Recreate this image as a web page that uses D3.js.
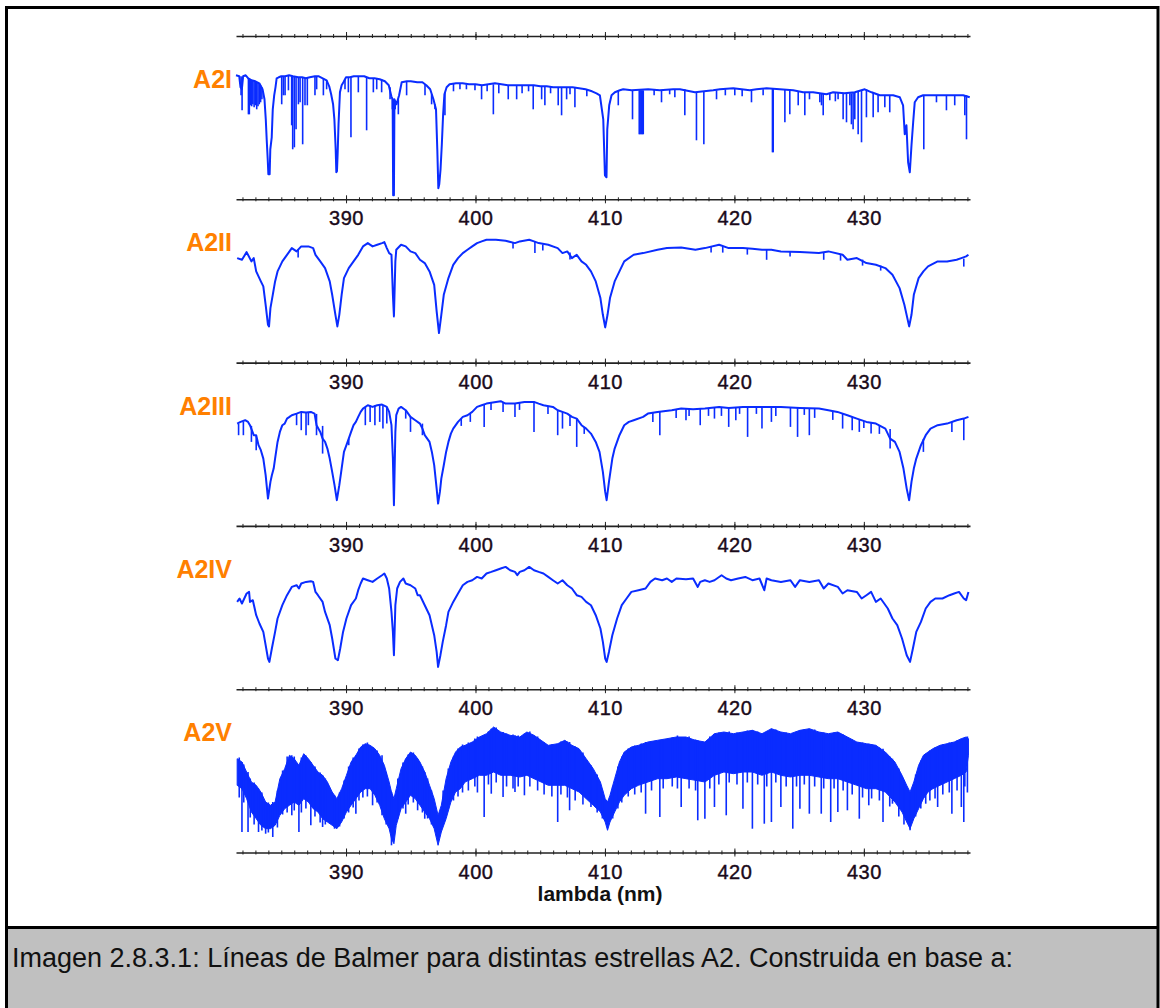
<!DOCTYPE html>
<html>
<head>
<meta charset="utf-8">
<script src="https://cdn.jsdelivr.net/npm/d3@7"></script>
<style>
  body { margin: 0; background: #fff; }
  svg text { font-family: "Liberation Sans", Arial, sans-serif; }
</style>
</head>
<body>
<div class="svg-container"></div>
<script>
// spectra: [lambda nm, relative intensity]
// narrow absorption lines: [lambda nm, top, bottom]
const starNames = ['A2I', 'A2II', 'A2III', 'A2IV', 'A2V'];
const majorTicks = [390, 400, 410, 420, 430];

const a2iFlux = [[381.50,124],[381.75,123],[381.85,112],[381.95,110],[382.05,123],[382.25,124],[382.45,121],[382.70,119],[383.00,118],[383.30,116],[383.55,110],[383.70,100],[383.80,80],[383.87,60],[383.95,40],[384.00,25],[384.10,25],[384.15,50],[384.26,62],[384.34,90],[384.45,104],[384.55,112],[384.64,121],[384.80,122],[385.00,123],[385.30,123],[385.60,124],[385.90,123],[386.30,122],[386.60,122],[386.90,121],[387.20,122],[387.60,123],[387.90,123],[388.20,121],[388.50,119],[388.70,113],[388.85,105],[389.00,95],[389.10,80],[389.20,50],[389.25,27],[389.30,28],[389.35,45],[389.42,75],[389.53,107],[389.66,114],[389.80,117],[390.00,122],[390.30,122],[390.60,123],[391.00,123],[391.40,123],[391.80,121],[392.20,121],[392.60,120],[393.00,118],[393.30,114],[393.50,103],[393.60,100],[393.64,4],[393.70,4],[393.74,100],[393.90,95],[394.10,104],[394.30,117],[394.70,118],[395.00,118],[395.50,117],[395.90,117],[396.20,114],[396.50,110],[396.75,100],[396.95,90],[397.05,50],[397.13,11],[397.20,15],[397.30,30],[397.40,55],[397.50,85],[397.60,105],[397.77,112],[398.00,115],[398.50,116],[399.00,116],[399.50,115],[400.00,115],[400.50,114],[401.00,115],[401.50,116],[402.00,115],[402.50,114],[403.00,114],[403.50,114],[404.00,114],[404.50,114],[405.00,113],[405.50,113],[406.00,112],[406.50,112],[407.00,112],[407.50,112],[408.00,111],[408.50,110],[409.00,108],[409.35,106],[409.61,104],[409.87,80],[410.00,24],[410.12,22],[410.18,70],[410.33,94],[410.51,104],[410.77,107],[411.15,109],[411.41,110],[412.06,109],[413.34,110],[414.24,109],[415.27,110],[415.79,110],[416.95,107],[418.36,109],[418.88,110],[419.91,111],[421.19,109],[421.71,110],[422.48,111],[423.51,110],[424.54,109],[425.31,107],[426.08,107],[427.11,105],[427.63,107],[428.50,106],[429.30,107],[430.07,110],[430.60,107],[431.23,104],[431.75,104],[432.26,104],[432.78,102],[433.03,94],[433.16,65],[433.29,74],[433.42,37],[433.55,27],[433.68,54],[433.81,77],[433.93,97],[434.19,102],[434.58,104],[435.35,104],[436.89,104],[437.67,104],[438.18,102]];

const a2iLines = [[381.89,123,104],[381.97,122,89],[382.46,121,85],[382.53,121,85],[382.62,120,94],[382.71,119,93],[382.80,119,95],[382.90,118,92],[383.00,118,94],[383.10,117,90],[383.20,117,93],[383.30,116,95],[383.40,114,97],[383.50,112,100],[385.03,123,95],[385.16,123,104],[385.29,123,104],[385.55,124,109],[385.80,123,74],[385.88,123,50],[386.01,123,52],[386.14,122,70],[386.32,122,95],[386.45,122,97],[386.65,122,55],[386.83,121,94],[387.01,121,94],[387.60,123,104],[387.73,123,110],[388.25,121,104],[388.50,119,110],[389.92,120,110],[390.18,122,107],[390.38,122,62],[390.95,123,107],[391.59,122,69],[392.11,121,107],[392.37,121,110],[392.75,120,107],[393.40,112,100],[393.58,101,90],[393.80,98,90],[394.04,100,85],[394.68,118,104],[396.10,115,104],[396.61,105,95],[396.87,95,90],[397.64,107,84],[398.30,116,108],[398.80,116,110],[399.30,115,110],[399.96,115,109],[400.47,114,100],[400.90,115,108],[401.38,115,85],[401.80,115,106],[402.53,114,100],[403.18,114,100],[403.60,114,106],[404.10,114,108],[404.46,114,90],[405.11,113,100],[405.36,113,94],[405.80,113,106],[406.39,112,94],[406.65,112,84],[407.04,112,100],[407.30,112,105],[407.68,112,92],[408.60,110,103],[411.03,109,94],[412.13,109,80],[412.65,109,65],[412.72,109,65],[412.80,109,65],[412.88,109,65],[412.96,109,65],[413.80,110,104],[414.37,109,97],[415.00,110,105],[415.40,110,102],[416.17,110,84],[417.07,107,59],[417.64,108,55],[418.62,109,100],[419.30,110,104],[420.03,111,104],[420.60,110,103],[421.32,109,97],[422.22,110,104],[422.94,111,47],[423.00,111,47],[423.90,110,77],[424.28,110,85],[424.93,108,94],[425.44,107,84],[425.80,107,100],[426.60,106,97],[426.73,106,94],[426.86,106,84],[427.37,106,99],[427.80,107,98],[428.01,107,100],[428.40,106,80],[428.66,106,77],[428.92,106,94],[429.04,106,75],[429.17,107,70],[429.30,107,80],[429.56,108,65],[429.82,109,57],[430.20,110,82],[430.72,107,82],[431.10,105,87],[431.62,104,92],[432.00,104,87],[434.63,104,50],[435.61,104,97],[436.38,104,89],[437.02,104,94],[437.80,104,84],[437.93,104,60]];

const a2iiFlux = [[381.59,104.5],[381.96,102.8],[382.32,110.5],[382.69,101.2],[382.87,104.5],[383.06,91.2],[383.42,81.2],[383.61,76.2],[383.79,57.8],[383.97,37.8],[384.05,36.2],[384.16,54.5],[384.34,67.8],[384.52,81.2],[384.71,91.2],[385.08,101.2],[385.44,107.8],[385.81,114.5],[386.18,111.2],[386.54,116.2],[387.09,116.2],[387.46,114.5],[387.64,107.8],[388.01,101.2],[388.38,94.5],[388.74,81.2],[388.93,67.8],[389.18,47.8],[389.33,36.2],[389.48,47.8],[389.66,67.8],[389.84,84.5],[390.21,94.5],[390.58,101.2],[390.94,107.8],[391.31,116.2],[391.68,119.5],[392.05,116.2],[392.41,117.8],[392.78,119.5],[392.96,120.5],[393.15,114.5],[393.33,109.5],[393.51,107.8],[393.62,67.8],[393.70,46.2],[393.81,101.2],[393.88,112.8],[394.25,117.8],[394.61,116.2],[394.98,111.2],[395.35,109.5],[395.71,102.8],[396.08,99.5],[396.45,91.2],[396.81,77.8],[397.00,51.2],[397.18,29.5],[397.36,47.8],[397.55,67.8],[397.91,84.5],[398.28,97.8],[398.65,104.5],[399.02,109.5],[399.38,112.8],[399.75,116.2],[400.12,119.5],[400.48,121.2],[400.85,122.8],[401.58,122.8],[402.32,121.8],[403.05,119.5],[403.42,121.2],[404.15,122.8],[404.52,121.2],[404.88,119.5],[405.62,117.8],[406.35,114.5],[406.72,109.5],[407.09,111.2],[407.45,104.5],[407.82,107.8],[408.19,101.2],[408.55,97.8],[408.92,91.2],[409.29,81.2],[409.65,64.5],[409.84,47.8],[410.02,35.2],[410.20,47.8],[410.39,64.5],[410.75,81.2],[411.12,91.2],[411.49,101.2],[412.22,107.8],[412.95,109.5],[414.06,112.8],[414.79,114.5],[415.89,115.2],[416.99,112.8],[417.72,114.5],[418.82,117.8],[419.56,114.5],[420.66,114.5],[421.39,113.8],[422.13,112.8],[422.86,112.8],[423.59,111.2],[425.06,110.5],[426.53,109.5],[427.26,111.2],[428.36,107.8],[428.73,102.8],[429.46,104.5],[430.20,99.5],[430.93,97.8],[431.66,94.5],[432.21,87.8],[432.76,74.5],[433.13,57.8],[433.50,36.2],[433.68,47.8],[433.86,67.8],[434.23,84.5],[434.60,91.2],[434.96,96.2],[435.70,101.2],[436.43,101.2],[437.17,102.8],[437.53,104.5],[437.90,106.2],[438.08,107.8]];

const a2iiLines = [[386.30,113,105],[402.90,120,114],[404.59,121,109.5],[405.20,118,112],[407.30,110,103],[418.20,116,110],[419.10,116,110],[421.00,114,108],[422.49,113,102.8],[424.30,111,106],[426.90,110,102.8],[428.20,108,102],[429.90,103,97],[431.30,97,92],[437.72,104,96]];

const a2iiiFlux = [[381.59,102.3],[381.85,104],[382.21,105.7],[382.43,104],[382.58,100.7],[382.87,90.7],[383.06,90.7],[383.24,80.7],[383.42,75.7],[383.61,67.3],[383.79,50.7],[383.97,27.3],[384.16,44],[384.27,50.7],[384.41,57.3],[384.52,67.3],[384.71,84],[384.89,94],[385.08,100.7],[385.26,102.3],[385.44,107.3],[385.63,109],[385.81,110.7],[386.18,112.3],[386.54,114],[386.91,113.3],[387.28,114],[387.57,112.3],[387.72,100.7],[388.01,94],[388.19,87.3],[388.38,84],[388.56,77.3],[388.74,67.3],[388.93,54],[389.11,40.7],[389.29,25.7],[389.48,40.7],[389.66,57.3],[389.84,74],[390.03,80.7],[390.21,87.3],[390.39,94],[390.58,100.7],[390.76,104],[390.94,109],[391.13,114],[391.31,117.3],[391.68,120.7],[392.05,119],[392.41,120.7],[392.78,121.3],[393.15,119],[393.33,114],[393.51,100.7],[393.62,67.3],[393.70,20.7],[393.81,94],[393.88,110.7],[394.06,117.3],[394.25,119],[394.61,115.7],[394.98,109],[395.35,105.7],[395.71,102.3],[395.90,97.3],[396.08,90.7],[396.45,84],[396.63,74],[396.81,60.7],[397.00,37.3],[397.11,22.3],[397.25,34],[397.36,47.3],[397.55,60.7],[397.73,74],[397.91,84],[398.10,92.3],[398.28,97.3],[398.65,104],[399.02,109],[399.38,110.7],[399.75,114],[400.12,119],[400.48,120.7],[400.85,122.3],[401.58,124],[401.95,124.7],[402.32,122.3],[403.05,122.3],[403.78,124],[404.52,124],[404.88,122.3],[405.25,120.7],[405.98,119],[406.35,115.7],[406.72,114],[407.09,112.3],[407.45,109],[407.82,107.3],[408.19,100.7],[408.55,97.3],[408.92,92.3],[409.29,84],[409.58,74],[409.84,54],[410.02,34],[410.13,25.7],[410.31,44],[410.57,67.3],[410.75,77.3],[411.12,90.7],[411.49,100.7],[411.85,104],[412.22,105.7],[412.95,109],[413.32,112.3],[414.06,114],[415.16,115.7],[415.89,117.3],[416.81,116.7],[417.72,117.3],[418.82,119],[419.56,118],[420.66,119],[421.39,119],[422.49,119],[423.59,119],[425.06,118],[426.53,117.3],[427.26,115.7],[427.96,114],[428.73,110.7],[429.46,107.3],[430.20,104],[430.93,102.3],[431.66,97.3],[432.03,87.3],[432.40,84],[432.76,74],[433.06,57.3],[433.31,37.3],[433.50,25.7],[433.68,44],[433.86,57.3],[434.05,67.3],[434.41,80.7],[434.78,90.7],[435.15,97.3],[435.70,100.7],[436.43,102.3],[437.17,105.7],[437.72,107.3],[438.08,109]];

const a2iiiLines = [[381.70,102,90.7],[382.07,104,90.7],[382.69,100,84],[383.06,90.7,75.7],[386.18,112.3,100.7],[386.54,114,95.7],[386.91,113.3,90.7],[387.09,113.3,100.7],[387.72,112,90.7],[388.19,100,72.3],[390.21,87.3,80.7],[391.49,119,100.7],[391.86,120.7,104],[392.23,120.7,100.7],[392.60,121.3,104],[392.85,120.7,97.3],[393.15,119,102.3],[394.61,115.7,107.3],[394.98,109,94],[395.90,102.3,90.7],[398.90,107,100],[399.60,112,104],[400.67,121,99],[401.20,123,116],[402.13,124,114],[403.05,122.3,109],[403.40,123,116],[404.52,124,94],[405.60,120,112],[406.35,115.7,90.7],[406.72,114,97.3],[407.30,110,100],[407.82,107.3,79],[408.40,99,92],[413.70,113,104],[414.24,114,90.7],[415.50,116,108],[416.26,117,105.7],[416.50,117,110],[417.36,117,100.7],[418.00,117,110],[418.46,118.5,107.3],[419.00,118.5,110],[419.56,118,99],[420.11,119,105.7],[420.40,119,112],[421.02,119,89],[421.70,119,112],[422.13,119,97.3],[422.86,119,104],[423.20,119,110],[424.33,118.5,99],[424.88,118,89],[425.40,118,111],[425.79,117.5,90.7],[426.20,117.5,108],[427.60,115,106],[428.36,112,97.3],[429.10,109,95.7],[429.65,106,94],[430.00,105,98],[430.56,103,92.3],[431.20,100,92],[432.03,97,77.3],[434.60,87,74],[436.80,104,94],[437.72,107.3,85.7]];

const a2ivFlux = [[381.59,87.3],[381.77,90.7],[381.96,85.7],[382.14,90.7],[382.32,95.7],[382.51,97.3],[382.58,87.3],[382.80,89],[383.06,74],[383.31,65.7],[383.61,57.3],[383.79,44],[383.97,30.7],[384.08,27.3],[384.27,40.7],[384.52,57.3],[384.71,70.7],[385.08,84],[385.44,94],[385.81,102.3],[386.18,104],[386.36,100.7],[386.54,105.7],[386.91,107.3],[387.28,108],[387.46,107.3],[387.64,97.3],[387.83,94],[388.19,87.3],[388.38,77.3],[388.74,64],[388.93,50.7],[389.18,30.7],[389.37,29],[389.55,40.7],[389.77,57.3],[390.03,70.7],[390.39,84],[390.76,90.7],[390.94,99],[391.13,105.7],[391.31,110.7],[391.68,109],[392.05,107.3],[392.41,110.7],[392.78,114],[392.96,115.7],[393.15,110.7],[393.33,100.7],[393.51,77.3],[393.62,57.3],[393.70,34],[393.81,84],[393.95,100.7],[394.17,107.3],[394.43,110.7],[394.61,105.7],[394.98,104],[395.35,100.7],[395.53,94],[395.71,94],[396.08,84],[396.45,74],[396.63,64],[396.81,54],[397.00,37.3],[397.11,22.3],[397.29,34],[397.47,47.3],[397.73,64],[397.91,77.3],[398.28,87.3],[398.65,95.7],[399.02,104],[399.38,107.3],[399.75,109],[400.12,112.3],[400.48,110.7],[400.85,115.7],[401.22,117.3],[401.58,119],[401.95,120.7],[402.32,122.3],[402.68,119],[403.05,117.3],[403.23,114],[403.42,117.3],[403.78,119],[404.15,122.3],[404.52,119],[404.88,117.3],[405.25,115.7],[405.62,112.3],[405.98,109],[406.35,105.7],[406.72,109],[407.09,104],[407.45,100.7],[407.82,94],[408.19,92.3],[408.55,87.3],[408.92,84],[409.29,74],[409.65,60.7],[409.84,47.3],[410.02,30.7],[410.13,27.3],[410.31,37.3],[410.57,54],[410.94,70.7],[411.30,84],[411.67,90.7],[412.04,97.3],[412.59,99],[413.14,100.7],[413.51,107.3],[413.87,110.7],[414.42,109],[414.79,110.7],[415.16,107.3],[415.52,110.7],[416.26,110],[416.81,110.7],[417.17,102.3],[417.36,107.3],[417.72,109],[418.09,107.3],[418.46,109],[419.01,114],[419.37,110.7],[419.74,109],[420.29,110.7],[420.84,112.3],[421.39,109],[421.94,110.7],[422.31,99],[422.49,110.7],[422.86,109],[423.59,107.3],[424.33,109],[424.69,102.3],[425.06,109],[425.79,107.3],[426.53,109],[426.90,100.7],[427.26,105.7],[427.99,102.3],[428.36,95.7],[428.73,99],[429.46,97.3],[429.83,90.7],[430.20,94],[430.56,97.3],[430.93,87.3],[431.30,90.7],[431.85,80.7],[432.21,70.7],[432.58,64],[432.95,50.7],[433.31,34],[433.57,27.3],[433.79,40.7],[434.05,57.3],[434.41,67.3],[434.78,80.7],[435.15,87.3],[435.52,90.7],[436.07,90.7],[436.62,94],[436.98,95.7],[437.35,97.3],[437.72,90.7],[437.90,89],[438.08,97.3]];

const a2ivLines = [];

// A2V is dense noise: [lambda, upper edge, lower edge] of the band
const a2vBand = [[381.59,93.8,67.2],[381.96,90.5,63.8],[382.32,80.5,53.8],[382.69,70.5,40.5],[383.06,67.2,33.8],[383.42,60.5,27.2],[383.79,50.5,23.8],[384.16,47.2,23.8],[384.52,50.5,27.2],[384.89,73.8,37.2],[385.26,83.8,43.8],[385.63,97.2,47.2],[385.99,93.8,50.5],[386.36,87.2,47.2],[386.73,98.8,53.8],[387.09,93.8,50.5],[387.46,87.2,43.8],[387.83,80.5,40.5],[388.19,77.2,33.8],[388.56,70.5,30.5],[388.93,60.5,27.2],[389.29,53.8,23.8],[389.66,63.8,30.5],[390.03,77.2,40.5],[390.39,90.5,47.2],[390.76,97.2,53.8],[391.13,105.5,60.5],[391.49,108.8,63.8],[391.86,107.2,63.8],[392.23,103.8,57.2],[392.60,97.2,47.2],[392.96,87.2,33.8],[393.33,70.5,23.8],[393.51,60.5,13.8],[393.70,53.8,8.8],[393.88,63.8,27.2],[394.25,83.8,43.8],[394.61,93.8,50.5],[394.98,100.5,57.2],[395.35,97.2,53.8],[395.71,90.5,47.2],[396.08,80.5,40.5],[396.45,67.2,33.8],[396.81,53.8,23.8],[397.11,37.2,7.2],[397.36,47.2,20.5],[397.73,73.8,33.8],[398.10,90.5,50.5],[398.46,100.5,60.5],[398.83,105.5,63.8],[399.20,107.2,70.5],[399.75,110.5,73.8],[400.30,115.5,77.2],[400.85,118.8,77.2],[401.40,125.5,80.5],[401.95,120.5,77.2],[402.68,117.2,77.2],[403.42,115.5,75.5],[403.97,120.5,77.2],[404.52,117.2,73.8],[405.07,112.2,70.5],[405.62,107.2,67.2],[406.35,108.8,67.2],[406.90,112.2,67.2],[407.45,107.2,63.8],[408.00,103.8,60.5],[408.55,93.8,53.8],[409.10,83.8,47.2],[409.65,70.5,40.5],[410.02,53.8,30.5],[410.20,50.5,22.2],[410.39,57.2,30.5],[410.75,73.8,40.5],[411.12,90.5,50.5],[411.49,100.5,57.2],[412.04,105.5,63.8],[412.59,107.2,67.2],[413.32,110.5,70.5],[414.06,112.2,73.8],[414.79,113.8,73.8],[415.52,115.5,75.5],[416.26,115.5,73.8],[416.99,112.2,72.2],[417.72,110.5,70.5],[418.46,118.8,77.2],[419.19,120.5,80.5],[419.92,118.8,78.8],[420.66,120.5,80.5],[421.39,122.2,80.5],[422.13,118.8,77.2],[422.86,123.8,80.5],[423.59,120.5,77.2],[424.33,118.8,75.5],[425.06,122.2,77.2],[425.79,123.8,77.2],[426.53,120.5,75.5],[427.26,118.8,73.8],[427.99,120.5,73.8],[428.73,115.5,70.5],[429.46,110.5,67.2],[430.20,108.8,63.8],[430.93,107.2,63.8],[431.66,100.5,60.5],[432.40,90.5,50.5],[432.95,77.2,40.5],[433.31,67.2,30.5],[433.57,60.5,23.8],[433.86,70.5,33.8],[434.23,87.2,43.8],[434.60,97.2,53.8],[434.96,100.5,60.5],[435.33,103.8,63.8],[435.88,107.2,67.2],[436.43,108.8,70.5],[436.98,110.5,73.8],[437.53,113.8,77.2],[437.90,115.5,80.5],[438.08,113.8,97.2]];

const a2vLines = [[381.96,90.5,20.5],[382.43,80.5,20.5],[383.24,63.8,20.5],[383.79,50.5,18.8],[384.34,50.5,15.5],[385.81,97.2,37.2],[386.36,87.2,20.5],[387.28,90.5,27.2],[388.19,77.2,25.5],[389.11,57.2,23.8],[390.76,97.2,38.8],[392.05,105.5,47.2],[392.78,97.2,37.2],[393.51,60.5,7.2],[394.61,93.8,38.8],[395.53,93.8,42.2],[396.08,80.5,33.8],[400.67,117.2,35.5],[401.22,123.8,58.8],[402.13,120.5,55.5],[403.05,117.2,60.5],[403.78,118.8,57.2],[406.35,108.8,30.5],[407.27,110.5,42.2],[408.92,87.2,45.5],[413.14,110.5,38.8],[414.24,112.2,35.5],[415.89,115.5,45.5],[417.17,112.2,32.2],[417.72,110.5,33.8],[418.46,118.8,45.5],[419.37,120.5,37.2],[420.66,120.5,43.8],[421.39,122.2,23.8],[422.31,118.8,28.8],[422.86,123.8,30.5],[423.59,120.5,45.5],[424.51,118.8,23.8],[425.06,122.2,43.8],[425.79,123.8,38.8],[426.71,120.5,38.8],[427.44,118.8,30.5],[427.99,120.5,40.5],[428.73,115.5,42.2],[429.65,110.5,33.8],[430.38,108.8,47.2],[431.48,103.8,30.5],[432.21,93.8,48.8],[433.57,60.5,22.2],[434.78,98.8,48.8],[435.70,105.5,45.5],[436.80,110.5,38.8],[437.53,113.8,45.5],[437.72,114,30.5],
  [381.75,95,55],[382.10,88,50],[382.60,74,35],[382.90,70,28],[383.50,60,22],[384.00,50,20],[384.70,62,25],[385.10,82,38],[385.45,96,40],[386.00,96,42],[386.55,95,40],[386.90,97,44],[387.60,86,36],[388.00,80,30],[388.40,74,28],[389.50,60,26],[389.85,72,34],[390.20,86,40],[390.55,95,45],[391.00,104,52],[391.30,108,55],[391.65,110,56],[392.40,102,50],[393.10,80,28],[394.00,74,34],[394.40,90,44],[394.80,98,48],[395.20,100,50],[395.90,86,40],[396.30,74,34],[396.60,62,28],[397.50,62,28],[397.90,84,44],[398.30,96,52],[398.65,104,56],[399.00,108,60],[399.45,110,62],[399.95,114,66],[400.15,116,60],[401.00,121,68],[401.60,125,70],[402.40,119,66],[402.90,118,64],[403.30,117,66],[404.20,121,66],[404.80,116,62],[405.30,110,58],[405.90,108,56],[406.60,111,58],[407.10,111,55],[407.70,106,52],[408.30,100,48],[409.40,78,40],[409.80,62,34],[410.60,66,34],[411.00,86,44],[411.30,96,50],[411.80,104,56],[412.30,107,58],[412.80,109,60],[413.60,111,62],[414.50,113,64],[415.20,115,66],[415.60,117,64],[416.50,116,64],[417.00,113,62],[418.10,116,64],[418.80,120,68],[419.60,121,70],[420.20,120,68],[421.00,122,70],[421.80,121,68],[422.50,121,66],[423.20,123,70],[424.00,120,66],[424.80,121,66],[425.40,123,68],[426.20,123,66],[426.90,120,64],[427.70,120,64],[428.40,118,62],[429.10,113,58],[429.90,110,55],[430.60,108,54],[431.20,105,52],[432.00,96,46],[432.70,84,36],[433.10,72,28],[434.00,78,36],[434.40,92,44],[435.10,102,52],[435.50,105,54],[436.10,108,58],[436.60,110,60],[437.20,112,62],[437.80,115,66],[438.00,116,60]];

const caption = 'Imagen 2.8.3.1: Líneas de Balmer para distintas estrellas A2. Construida en base a:';

const renderSpectra = () => {
  const width = 1160;
  const height = 1008;
  const blue = '#0a2cff';

  const svg = d3.select('.svg-container')
    .append('svg')
    .attr('width', width)
    .attr('height', height);

  // frame and caption box
  svg.append('rect')
    .attr('x', 8).attr('y', 928).attr('width', 1149).attr('height', 80)
    .attr('fill', '#c0c0c0');
  svg.append('rect')
    .attr('x', 6.5).attr('y', 7.5).attr('width', 1151.5).attr('height', 1010)
    .attr('fill', 'none').attr('stroke', '#000').attr('stroke-width', 3);
  svg.append('line')
    .attr('x1', 6).attr('x2', 1158).attr('y1', 927.5).attr('y2', 927.5)
    .attr('stroke', '#000').attr('stroke-width', 3);
  svg.append('text')
    .attr('x', 12).attr('y', 967)
    .attr('font-size', 27)
    .attr('fill', '#111')
    .text(caption);

  const x = d3.scaleLinear().domain([381.5, 438.2]).range([236, 970]);

  // one axis line above each panel plus one under the last
  const axisY = [36, 199.3, 362.6, 525.9, 689.2, 852.5];
  const minorTicks = d3.range(382, 439);

  axisY.forEach((yy, i) => {
    const gMinor = svg.append('g')
      .attr('transform', `translate(0,${yy})`)
      .call(d3.axisBottom(x).tickValues(minorTicks).tickSizeOuter(0).tickFormat(''));
    gMinor.select('.domain').attr('stroke', '#222').attr('stroke-width', 1.6);
    gMinor.selectAll('.tick line').attr('y1', -2).attr('y2', 2).attr('stroke', '#222');

    const gMajor = svg.append('g')
      .attr('transform', `translate(0,${yy})`)
      .call(d3.axisBottom(x).tickValues(majorTicks).tickSizeOuter(0)
        .tickFormat(i === 0 ? '' : d3.format('d')));
    gMajor.select('.domain').remove();
    gMajor.selectAll('.tick line').attr('y1', -4).attr('y2', 4).attr('stroke', '#222');
    gMajor.selectAll('.tick text')
      .attr('y', 26).attr('dy', 0)
      .attr('font-size', 20)
      .attr('font-family', '"Liberation Sans", Arial, sans-serif')
      .attr('letter-spacing', 0.5)
      .attr('fill', '#1a0a1a')
      .attr('stroke', '#1a0a1a')
      .attr('stroke-width', 0.4);
  });

  svg.append('text')
    .attr('x', 600).attr('y', 901)
    .attr('text-anchor', 'middle')
    .attr('font-size', 21)
    .attr('font-weight', 'bold')
    .attr('fill', '#111')
    .text('lambda (nm)');

  const panels = [
    { flux: a2iFlux, lines: a2iLines },
    { flux: a2iiFlux, lines: a2iiLines },
    { flux: a2iiiFlux, lines: a2iiiLines },
    { flux: a2ivFlux, lines: a2ivLines },
    { band: a2vBand, lines: a2vLines }
  ];

  panels.forEach((p, i) => {
    const y = d3.scaleLinear().domain([0, 163.3]).range([axisY[i + 1], axisY[i]]);
    const g = svg.append('g');

    if (p.band) {
      g.append('path')
        .datum(p.band)
        .attr('fill', blue)
        .attr('stroke', blue)
        .attr('stroke-width', 1)
        .attr('d', d3.area().x(d => x(d[0])).y0(d => y(d[2])).y1(d => y(d[1])));
    }
    if (p.flux) {
      g.append('path')
        .datum(p.flux)
        .attr('fill', 'none')
        .attr('stroke', blue)
        .attr('stroke-width', 2)
        .attr('stroke-linejoin', 'round')
        .attr('d', d3.line().x(d => x(d[0])).y(d => y(d[1])));
    }
    g.selectAll('line.abs')
      .data(p.lines)
      .join('line')
      .attr('class', 'abs')
      .attr('x1', d => x(d[0])).attr('x2', d => x(d[0]))
      .attr('y1', d => y(d[1])).attr('y2', d => y(d[2]))
      .attr('stroke', blue)
      .attr('stroke-width', 1.6);

    svg.append('text')
      .attr('x', 232).attr('y', axisY[i] + 52)
      .attr('text-anchor', 'end')
      .attr('font-size', 25)
      .attr('font-weight', 'bold')
      .attr('fill', '#ff8000')
      .text(starNames[i]);
  });
};

renderSpectra();
</script>
</body>
</html>
